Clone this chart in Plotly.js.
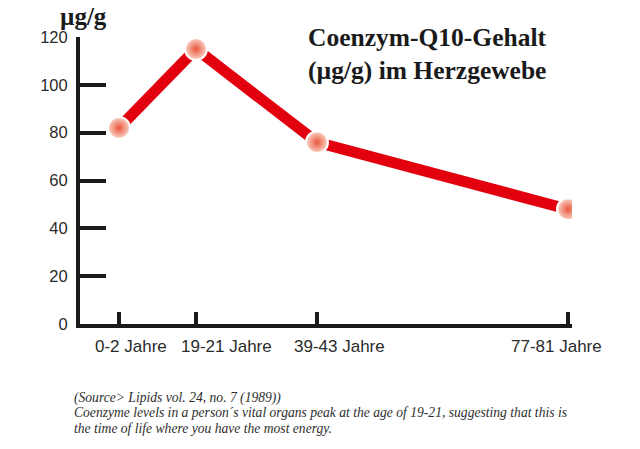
<!DOCTYPE html>
<html><head><meta charset="utf-8">
<script src="https://cdn.plot.ly/plotly-3.0.1.min.js"></script>
<style>html,body{margin:0;padding:0;background:#fff}#chart{width:640px;height:449px}</style>
</head><body><div id="chart"></div>
<script>
// Data
const ageGroups = ["0-2 Jahre", "19-21 Jahre", "39-43 Jahre", "77-81 Jahre"];
const agePos = [39, 116, 237, 488];
const coq10 = [82, 115, 76, 48];
const yTicks = [0, 20, 40, 60, 80, 100, 120];
const unitLabel = "µg/g";
const titleText = "Coenzym-Q10-Gehalt<br>(µg/g) im Herzgewebe";
const sourceText = "(Source> Lipids vol. 24, no. 7 (1989))";
const noteLines = ["Coenzyme levels in a person´s vital organs peak at the age of 19-21, suggesting that this is",
                   "the time of life where you have the most energy."];

const labelShift = [12, 30, 22, -12];

const trace = {
  x: agePos, y: coq10, type: 'scatter', mode: 'lines+markers',
  line: {color: '#e2000f', width: 11},
  marker: {size: 22, color: '#fcd6c9', gradient: {type: 'radial', color: '#e8553c'},
           line: {color: '#ffffff', width: 2}},
  hoverinfo: 'skip'
};

const serif = 'Liberation Serif, Times New Roman, serif';
const py = p => (324 - p) / 287;
const px = p => (p - 80) / 492;

const annotations = ageGroups.map((g, i) => ({
  x: agePos[i], y: 0, xref: 'x', yref: 'y', text: g, showarrow: false,
  xanchor: 'center', yanchor: 'middle', xshift: labelShift[i], yshift: -22,
  font: {family: 'Liberation Sans, Arial, sans-serif', size: 17, color: '#2b2b2b'}
}));
annotations.push({
  xref: 'paper', yref: 'paper', x: px(58), y: py(17),
  xanchor: 'left', yanchor: 'middle', text: '<b>' + unitLabel + '</b>', showarrow: false,
  font: {family: serif, size: 25, color: '#1a1a1a'}
});
annotations.push({
  xref: 'paper', yref: 'paper', x: px(306), y: py(54),
  xanchor: 'left', yanchor: 'middle', align: 'left', text: '<b>' + titleText + '</b>', showarrow: false,
  font: {family: serif, size: 25.5, color: '#1a1a1a'}
});
const footer = [sourceText].concat(noteLines);
const footerY = [398, 412.5, 428];
footer.forEach((t, i) => annotations.push({
  xref: 'paper', yref: 'paper', x: px(72), y: py(footerY[i]),
  xanchor: 'left', yanchor: 'middle', align: 'left', text: '<i>' + t + '</i>', showarrow: false,
  font: {family: serif, size: 13.6, color: '#2e2e2e'}
}));

const layout = {
  width: 640, height: 449,
  margin: {l: 80, r: 68, t: 37, b: 125},
  paper_bgcolor: '#ffffff', plot_bgcolor: '#ffffff',
  showlegend: false,
  xaxis: {
    range: [0, 492], tickmode: 'array', tickvals: agePos, ticktext: ageGroups.map(() => ''),
    showgrid: false, zeroline: false, showline: true, linecolor: '#1a1a1a', linewidth: 4,
    ticks: 'inside', ticklen: 12, tickwidth: 4, tickcolor: '#1a1a1a', fixedrange: true
  },
  yaxis: {
    range: [0, 120], tickmode: 'array', tickvals: yTicks, ticktext: yTicks.map(String),
    showgrid: false, zeroline: false, showline: true, linecolor: '#1a1a1a', linewidth: 4,
    ticks: 'inside', ticklen: 26, tickwidth: 4, tickcolor: '#1a1a1a', ticklabelstandoff: 5,
    tickfont: {family: 'Liberation Sans, Arial, sans-serif', size: 16.5, color: '#2b2b2b'},
    fixedrange: true
  },
  annotations: annotations
};

Plotly.newPlot('chart', [trace], layout, {displayModeBar: false, staticPlot: true});
</script>
</body></html>
